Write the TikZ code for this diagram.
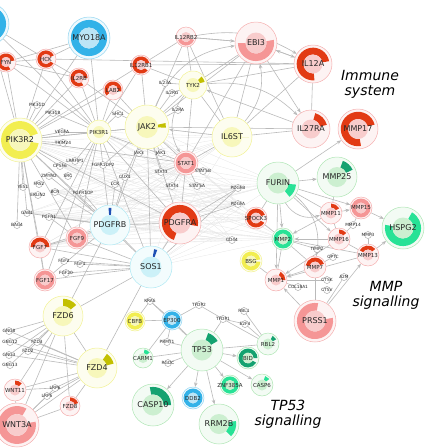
\documentclass[tikz,border=0pt]{standalone}
\usepackage{xcolor}
\usepackage{fontspec}
\setmainfont{DejaVu Sans}
\definecolor{genred}{RGB}{226, 58, 20}
\definecolor{pinkbase}{RGB}{236, 110, 110}
\definecolor{salmon}{RGB}{245, 150, 150}
\definecolor{bluebase}{RGB}{60, 180, 230}
\definecolor{arcblue}{RGB}{50, 178, 232}
\definecolor{cyanbase}{RGB}{110, 215, 235}
\definecolor{darkblue}{RGB}{30, 80, 180}
\definecolor{yelbase}{RGB}{232, 232, 60}
\definecolor{yelarc}{RGB}{242, 238, 80}
\definecolor{olive}{RGB}{195, 192, 0}
\definecolor{grnbase}{RGB}{110, 210, 120}
\definecolor{grnarc}{RGB}{40, 226, 150}
\definecolor{grndark}{RGB}{20, 162, 112}
\usepackage{tikz}
\usetikzlibrary{arrows.meta, positioning, calc}
\pgfdeclarelayer{background}
\pgfsetlayers{background,main}

% gene node: position, radius, base colour, arc colour, arc start, arc end, name, label, label style
\newcommand{\gene}[9]{%
  \node[genecirc, minimum size=2*#2pt, draw=#3!55, fill=#3!8] (#7) at (#1) {};
  \fill[#4] ([shift={(#5:{0.86*#2pt})}]#7.center) arc[start angle=#5, end angle=#6, radius=0.86*#2pt]
    -- ([shift={(#6:{0.5*#2pt})}]#7.center) arc[start angle=#6, end angle=#5, radius=0.5*#2pt] -- cycle;
  \fill[#3!35] (#7.center) circle[radius=0.5*#2pt];
  \node[#9] at (#7.center) {#8};
}
% small gene: position, name
\newcommand{\lbl}[2]{%
  \node[dot] (#2) at (#1) {};
  \node[tinytxt] at (#2) {#2};
}

\tikzset{
  genecirc/.style={circle, inner sep=0pt, line width=0.5pt},
  bigtxt/.style={font=\fontsize{8}{8}\selectfont, text=black!85},
  smalltxt/.style={font=\fontsize{5.5}{5.5}\selectfont, text=black!85},
  dot/.style={circle, draw=black!45, fill=white, inner sep=0pt, minimum size=7pt, line width=0.3pt},
  tinytxt/.style={font=\fontsize{4.3}{4.3}\selectfont, text=black!85},
  edge/.style={draw=black!27, line width=0.6pt},
  arr/.style={edge, -{Stealth[length=4.5pt, width=3.5pt]}},
  faint/.style={draw=black!10, line width=0.3pt},
  cluster/.style={font=\itshape\fontsize{14}{15}\selectfont, align=center},
}

\begin{document}
\begin{tikzpicture}[x=1pt, y=1pt]
    \useasboundingbox (0,0) rectangle (448,-448);
    \clip (0,0) rectangle (448,-448);

    % Immune system cluster
    \gene{-12,-24}{21}{bluebase}{arcblue}{0}{360}{offblue}{}{bigtxt}
    \gene{89,-38}{21}{bluebase}{arcblue}{0}{360}{MYO18A}{MYO18A}{bigtxt}
    \gene{6,-62}{10}{pinkbase}{genred}{10}{300}{FYN}{FYN}{smalltxt}
    \gene{46,-59}{10}{pinkbase}{genred}{25}{330}{HCK}{HCK}{smalltxt}
    \gene{79,-78}{10}{pinkbase}{genred}{0}{300}{IL2RB}{IL2RB}{smalltxt}
    \gene{141,-65}{10}{pinkbase}{genred}{15}{320}{IL12RB1}{IL12RB1}{smalltxt}
    \gene{113,-90}{10}{pinkbase}{genred}{-10}{220}{LAB2}{LAB2}{smalltxt}
    \gene{186,-37}{10}{pinkbase}{salmon}{200}{340}{IL12RB2}{IL12RB2}{smalltxt}
    \gene{256,-43}{21}{pinkbase}{salmon}{-180}{10}{EBI3}{EBI3}{bigtxt}
    \gene{313,-64}{19}{pinkbase}{genred}{10}{275}{IL12A}{IL12A}{bigtxt}
    \gene{311,-129}{19}{pinkbase}{genred}{15}{75}{IL27RA}{IL27RA}{bigtxt}
    \gene{358,-129}{20}{pinkbase}{genred}{15}{280}{MMP17}{MMP17}{bigtxt}
    \gene{193,-85}{14}{yelbase}{olive}{15}{45}{TYK2}{TYK2}{smalltxt}
    \gene{147,-127}{22}{yelbase}{olive}{-2}{12}{JAK2}{JAK2}{bigtxt}
    \gene{232,-137}{20}{yelbase}{olive}{0}{0}{IL6ST}{IL6ST}{bigtxt}
    \gene{20,-140}{22}{yelbase}{yelarc}{20}{350}{PIK3R2}{PIK3R2}{bigtxt}
    \gene{99,-132}{12}{yelbase}{olive}{0}{0}{PIK3R1}{PIK3R1}{smalltxt}
    \gene{186,-163}{12}{pinkbase}{salmon}{0}{360}{STAT1}{STAT1}{smalltxt}
    \node[cluster] (immune) at (370,-84) {Immune\\system};

    % growth factor receptors
    \gene{110,-225}{20}{cyanbase}{darkblue}{85}{95}{PDGFRB}{PDGFRB}{bigtxt}
    \gene{151,-267}{21}{cyanbase}{darkblue}{70}{80}{SOS1}{SOS1}{bigtxt}
    \gene{180,-223}{21}{pinkbase}{genred}{-10}{250}{PDGFRA}{PDGFRA}{bigtxt}
    \gene{77,-238}{11}{pinkbase}{salmon}{0}{360}{FGF9}{FGF9}{smalltxt}
    \gene{40,-247}{11}{pinkbase}{genred}{0}{180}{FGF7}{FGF7}{smalltxt}
    \gene{45,-280}{11}{pinkbase}{salmon}{0}{360}{FGF17}{FGF17}{smalltxt}

    % MMP cluster
    \gene{278,-183}{21}{grnbase}{grnarc}{-50}{-5}{FURIN}{FURIN}{bigtxt}
    \gene{337,-177}{20}{grnbase}{grndark}{25}{70}{MMP25}{MMP25}{bigtxt}
    \gene{256,-218}{11}{pinkbase}{genred}{20}{330}{SPOCK3}{SPOCK3}{smalltxt}
    \gene{283,-239}{11}{grnbase}{grnarc}{0}{360}{MMP2}{MMP2}{smalltxt}
    \gene{251,-261}{11}{yelbase}{yelarc}{10}{355}{BSG}{BSG}{smalltxt}
    \gene{276,-280}{11}{pinkbase}{genred}{0}{60}{MMP1}{MMP1}{smalltxt}
    \gene{331,-213}{11}{pinkbase}{genred}{30}{90}{MMP11}{MMP11}{smalltxt}
    \gene{361,-208}{11}{pinkbase}{salmon}{0}{360}{MMP15}{MMP15}{smalltxt}
    \gene{339,-239}{11}{pinkbase}{genred}{40}{90}{MMP16}{MMP16}{smalltxt}
    \gene{368,-255}{11}{pinkbase}{genred}{40}{150}{MMP13}{MMP13}{smalltxt}
    \gene{315,-267}{11}{pinkbase}{genred}{20}{170}{MMP7}{MMP7}{smalltxt}
    \gene{403,-228}{21}{grnbase}{grnarc}{170}{420}{HSPG2}{HSPG2}{bigtxt}
    \gene{315,-321}{21}{pinkbase}{salmon}{80}{370}{PRSS1}{PRSS1}{bigtxt}
    \node[cluster] (mmp) at (386,-295) {MMP\\signalling};

    % WNT cluster
    \gene{63,-316}{20}{yelbase}{olive}{40}{90}{FZD6}{FZD6}{bigtxt}
    \gene{97,-368}{20}{yelbase}{olive}{15}{55}{FZD4}{FZD4}{bigtxt}
    \gene{15,-390}{11}{pinkbase}{genred}{45}{90}{WNT11}{WNT11}{smalltxt}
    \gene{17,-425}{22}{pinkbase}{salmon}{60}{370}{WNT3A}{WNT3A}{bigtxt}
    \gene{70,-406}{10}{pinkbase}{genred}{20}{90}{FZD8}{FZD8}{smalltxt}

    % TP53 cluster
    \gene{135,-321}{10}{yelbase}{yelarc}{0}{360}{CBFB}{CBFB}{smalltxt}
    \gene{143,-358}{10}{grnbase}{grnarc}{40}{80}{CARM1}{CARM1}{smalltxt}
    \gene{153,-405}{21}{grnbase}{grndark}{0}{100}{CASP10}{CASP10}{bigtxt}
    \gene{172,-320}{10}{bluebase}{arcblue}{0}{360}{EP300}{EP300}{smalltxt}
    \gene{202,-350}{21}{grnbase}{grndark}{30}{70}{TP53}{TP53}{bigtxt}
    \gene{268,-344}{11}{grnbase}{grndark}{30}{60}{RBL2}{RBL2}{smalltxt}
    \gene{248,-358}{11}{grnbase}{grndark}{0}{330}{BID}{BID}{smalltxt}
    \gene{230,-385}{10}{grnbase}{grnarc}{0}{360}{ZNF385A}{ZNF385A}{smalltxt}
    \gene{262,-385}{11}{grnbase}{grnarc}{40}{70}{CASP6}{CASP6}{smalltxt}
    \gene{193,-398}{11}{bluebase}{arcblue}{0}{360}{DDB2}{DDB2}{smalltxt}
    \gene{219,-424}{20}{grnbase}{grnarc}{-45}{10}{RRM2B}{RRM2B}{bigtxt}
    \node[cluster] (tp) at (288,-414) {TP53\\signalling};

    % small genes
    \lbl{37,-105}{PIK3CD} \lbl{53,-113}{PIK3CB} \lbl{62,-132}{VEGFA} \lbl{63,-143}{TRIM24}
    \lbl{118,-114}{SHC1} \lbl{165,-83}{IL23A} \lbl{172,-93}{IL2RG} \lbl{178,-110}{IL2RA}
    \lbl{139,-153}{JAK3} \lbl{161,-153}{JAK1} \lbl{75,-161}{LRRFIP1} \lbl{60,-166}{CPSF6}
    \lbl{103,-165}{FGFR1OP2} \lbl{49,-176}{ZMYM2} \lbl{68,-176}{SRC} \lbl{125,-177}{CUX1}
    \lbl{23,-187}{YES1} \lbl{39,-184}{FRS2} \lbl{55,-192}{BCR} \lbl{38,-195}{ERLIN2}
    \lbl{115,-184}{LCK} \lbl{83,-193}{FGFR1OP} \lbl{27,-213}{GAB1} \lbl{49,-217}{FGFR1}
    \lbl{17,-225}{BAG4} \lbl{64,-261}{FGF2} \lbl{80,-264}{FGF1} \lbl{66,-273}{FGF20}
    \lbl{161,-172}{STAT3} \lbl{203,-171}{STAT5B} \lbl{172,-186}{STAT4} \lbl{197,-186}{STAT5A}
    \lbl{238,-188}{PDGFB} \lbl{238,-204}{PDGFA} \lbl{232,-240}{CD44}
    \lbl{353,-225}{MMP14} \lbl{368,-235}{MMP3} \lbl{317,-249}{TIMP2} \lbl{333,-257}{OPTC}
    \lbl{327,-280}{CTSK} \lbl{327,-290}{CTSV} \lbl{344,-277}{A2M} \lbl{298,-287}{COL18A1}
    \lbl{37,-342}{FZD3} \lbl{28,-351}{FZD2} \lbl{10,-342}{GNG12} \lbl{9,-355}{GNG3}
    \lbl{10,-365}{GNG13} \lbl{9,-331}{GNG8} \lbl{55,-388}{LRP6} \lbl{47,-396}{LRP5}
    \lbl{150,-301}{KRAS} \lbl{199,-305}{TFDP2} \lbl{223,-319}{TFDP1} \lbl{244,-311}{RBL1}
    \lbl{245,-324}{E2F4} \lbl{167,-342}{PRMT1} \lbl{168,-363}{RGDC}

    \begin{pgfonlayer}{background}
    % faint web
    \foreach \a in {PIK3R2, PIK3R1, PDGFRB, SOS1, JAK2, FGF9, FGF7, CPSF6, GAB1, BCR, FGFR1}
      \foreach \b in {PDGFB, PDGFA, CD44, FURIN, SPOCK3, PDGFRA, STAT1, IL6ST, MMP2}
        \draw[faint] (\a) -- (\b);
    % edges
    \foreach \a/\b in {PIK3R2/FYN, PIK3R2/HCK, PIK3R2/IL2RB, PIK3R2/LAB2, PIK3R2/MYO18A, PIK3R2/PIK3R1,
        PIK3R2/JAK2, PIK3R2/PDGFRB, PIK3R2/SOS1, PIK3R2/PDGFRA, PIK3R2/FGF9, PIK3R2/FGF7, PIK3R2/STAT1,
        PIK3R2/PIK3CD, PIK3R2/PIK3CB, PIK3R2/VEGFA, PIK3R2/TRIM24, PIK3R2/GAB1, PIK3R2/BAG4, PIK3R2/YES1,
        PIK3R2/CPSF6, PIK3R2/IL12RB1, PIK3R2/offblue, PIK3R2/FGF17,
        PIK3R1/FYN, PIK3R1/HCK, PIK3R1/IL2RB, PIK3R1/LAB2, PIK3R1/MYO18A, PIK3R1/JAK2, PIK3R1/PDGFRB,
        PIK3R1/SOS1, PIK3R1/PDGFRA, PIK3R1/FGF9, PIK3R1/FGF7, PIK3R1/FGF17, PIK3R1/STAT1, PIK3R1/SHC1,
        PIK3R1/IL12RB1, PIK3R1/LRRFIP1, PIK3R1/VEGFA, PIK3R1/PIK3CB, PIK3R1/offblue,
        MYO18A/FYN, MYO18A/HCK, FYN/HCK, HCK/IL2RB, FYN/IL2RB, offblue/HCK,
        JAK2/IL2RB, JAK2/IL12RB1, JAK2/LAB2, JAK2/TYK2, JAK2/STAT1, JAK2/IL12RB2, JAK2/EBI3,
        JAK2/IL27RA, JAK2/PDGFRA, JAK2/PDGFRB, JAK2/SOS1, JAK2/JAK3, JAK2/JAK1, JAK2/STAT3, JAK2/SHC1,
        JAK2/IL2RA, JAK2/IL2RG, JAK2/FGFR1OP2, JAK2/CUX1,
        TYK2/IL12RB2, TYK2/EBI3, TYK2/IL12A, TYK2/IL6ST, TYK2/STAT1, TYK2/IL23A, TYK2/IL2RG,
        TYK2/IL12RB1, IL12RB2/EBI3, IL12RB2/IL12RB1, IL12RB2/IL6ST, EBI3/IL6ST, EBI3/STAT1,
        IL6ST/IL27RA, IL6ST/STAT1, IL6ST/IL12A, IL12A/IL27RA, HCK/IL12A, IL12RB1/IL12A,
        STAT1/STAT3, STAT1/STAT5B, STAT1/STAT4, STAT1/STAT5A, STAT1/PDGFRA,
        PDGFRB/SOS1, PDGFRB/PDGFRA, PDGFRB/FGF9, PDGFRB/FGF7, PDGFRB/FGF17, PDGFRB/FGFR1, PDGFRB/GAB1,
        PDGFRB/LCK, PDGFRB/FGFR1OP, PDGFRB/CUX1, PDGFRB/ZMYM2, PDGFRB/BCR,
        SOS1/PDGFRA, SOS1/FGF9, SOS1/FGF7, SOS1/FGF17, SOS1/FGF2, SOS1/FGF1, SOS1/FGF20, SOS1/FZD6,
        SOS1/FZD4, SOS1/PDGFB, PDGFRA/PDGFB, PDGFRA/PDGFA, FGF9/FGF7, FGF7/FGF17, FGF9/FGFR1,
        FZD6/FZD4, FZD6/WNT3A, FZD6/WNT11, FZD6/FZD8, FZD6/GNG12, FZD6/GNG3, FZD6/GNG8, FZD6/FZD3,
        FZD6/FZD2, FZD6/PDGFRB, FZD6/GNG13, FZD4/WNT3A, FZD4/WNT11, FZD4/FZD8, FZD4/LRP6, FZD4/LRP5,
        FZD4/GNG12, FZD4/GNG3, FZD4/FZD3, FZD4/FZD2, FZD4/GNG8, WNT3A/FZD8, WNT3A/WNT11, WNT3A/LRP6,
        WNT3A/LRP5, WNT11/LRP6,
        TP53/EP300, TP53/CARM1, TP53/RBL2, TP53/PRMT1, TP53/RGDC, TP53/TFDP1, TP53/KRAS,
        EP300/CBFB, EP300/CARM1, EP300/KRAS, EP300/PRMT1, EP300/TFDP2, CBFB/KRAS,
        RBL2/E2F4, RBL2/TFDP1, RBL2/RBL1, TFDP2/TFDP1, TFDP1/E2F4,
        FURIN/MMP11, FURIN/SPOCK3, MMP2/SPOCK3, MMP2/MMP1, MMP2/MMP7, MMP2/MMP13, MMP2/TIMP2,
        MMP1/BSG, MMP1/COL18A1, MMP16/MMP13, MMP11/MMP16, PRSS1/MMP7, PRSS1/A2M, MMP7/TIMP2,
        MMP16/MMP14, MMP13/MMP3, MMP7/OPTC, MMP1/CTSK, MMP25/MMP11, MMP15/MMP14}
      \draw[edge] (\a) -- (\b);
    % directed edges
    \foreach \a/\b in {IL12RB2/EBI3, EBI3/IL12A, IL6ST/JAK2, IL27RA/TYK2, EBI3/IL27RA, IL12A/EBI3,
        TP53/CASP10, TP53/DDB2, TP53/RRM2B, TP53/ZNF385A, TP53/CASP6, TP53/BID,
        FURIN/MMP25, FURIN/MMP2, FURIN/MMP16, FURIN/MMP15, FURIN/MMP17, MMP16/MMP2, MMP11/MMP2,
        MMP7/MMP1, MMP13/MMP1, MMP16/MMP1, PRSS1/MMP1, MMP15/HSPG2, MMP13/HSPG2, MMP11/MMP15,
        PRSS1/MMP13, FURIN/MMP1}
      \draw[arr] (\a) -- (\b);
    % curved ones
    \draw[arr] (TYK2) to[bend left=25] (IL27RA);
    \draw[arr] (IL12RB2) to[bend left=20] (IL12A);
    \draw[arr] (JAK2) to[bend left=30] (EBI3);
    \draw[arr] (IL6ST) to[bend right=25] (EBI3);
    \draw[arr] (TYK2) to[bend right=35] (STAT1);
    \draw[arr] (FURIN) to[bend right=40] (MMP11);
    \draw[arr] (FURIN) to[bend left=30] (MMP7);
    \end{pgfonlayer}

\end{tikzpicture}
\end{document}
